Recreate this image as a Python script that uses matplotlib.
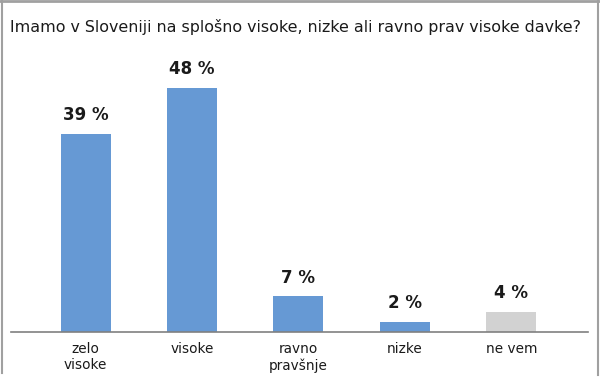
import matplotlib.pyplot as plt
from matplotlib.lines import Line2D

categories = ['zelo\nvisoke', 'visoke', 'ravno\npravšnje', 'nizke', 'ne vem']
values = [39, 48, 7, 2, 4]
colors = ['#6699d4', '#6699d4', '#6699d4', '#6699d4', '#d2d2d2']
title = 'Imamo v Sloveniji na splošno visoke, nizke ali ravno prav visoke davke?'

W, H = 600, 391
fig = plt.figure(figsize=(6, 3.91), dpi=100, facecolor='white')

# frame around chart
frame_col = '#a0a0a0'
fig.add_artist(Line2D([0, 1], [1 - 1 / H, 1 - 1 / H], color=frame_col, lw=2,
                      transform=fig.transFigure))
fig.add_artist(Line2D([2 / W, 2 / W], [1, 1 - 373 / H], color=frame_col, lw=1.5,
                      transform=fig.transFigure))
fig.add_artist(Line2D([598 / W, 598 / W], [1, 1 - 375 / H], color=frame_col, lw=1.5,
                      transform=fig.transFigure))

fig.text(10 / W, 1 - 27 / H, title, fontsize=11.4, color='#1a1a1a',
         ha='left', va='center')

ax = fig.add_axes([11 / W, 59 / H, 577 / W, 272 / H])
x = list(range(len(values)))
ax.bar(x, values, width=0.47, color=colors)
ax.set_xlim(-0.7, 4.72)
ax.set_ylim(0, 53.5)

for xi, v in zip(x, values):
    ax.annotate(f'{v} %', (xi, v), xytext=(0, 7), textcoords='offset points',
                ha='center', va='bottom', fontsize=12, fontweight='bold',
                color='#1a1a1a')

ax.set_xticks(x)
ax.set_xticklabels(categories, fontsize=9.8, color='#1a1a1a', linespacing=1.2)
ax.tick_params(axis='x', length=0, pad=7)
ax.set_yticks([])
for s in ['top', 'left', 'right']:
    ax.spines[s].set_visible(False)
ax.spines['bottom'].set_color('#808080')
ax.spines['bottom'].set_linewidth(1.2)

plt.savefig('out.png', dpi=100)
plt.close()
